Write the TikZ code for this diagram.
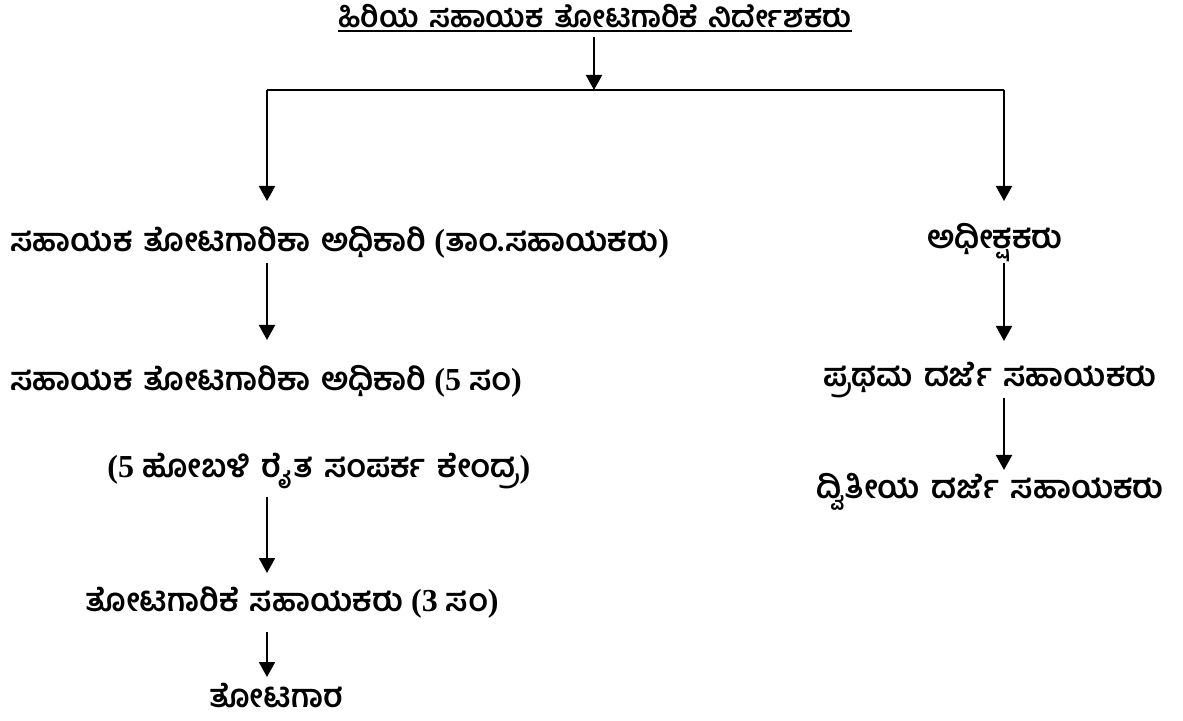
\documentclass[tikz,border=0pt]{standalone}
\usepackage{fontspec}
\setmainfont{Liberation Serif}
\newfontfamily\knfont[Script=Kannada,WordSpace=1.4]{Hind Mysuru}
\newcommand\kan[1]{{\knfont\bfseries #1}}
\usetikzlibrary{arrows.meta}
\begin{document}
\begin{tikzpicture}[x=0.5pt,y=-0.5pt,
  lbl/.style={inner sep=0pt, font=\fontsize{16}{19}\selectfont\bfseries},
  ttl/.style={inner sep=0pt, font=\fontsize{15}{18}\selectfont\bfseries},
  arr/.style={line width=1pt,-{Triangle[length=7.5pt,width=8pt]}},
  ln/.style={line width=1pt}]
\useasboundingbox (0,0) rectangle (1183,721);
% nodes
\node[ttl] (title) at (595,16) {\kan{ಹಿರಿಯ ಸಹಾಯಕ ತೋಟಗಾರಿಕೆ ನಿರ್ದೇಶಕರು}};
\node[lbl,anchor=west] (n1) at (10,242) {\kan{ಸಹಾಯಕ ತೋಟಗಾರಿಕಾ ಅಧಿಕಾರಿ} (\kan{ತಾಂ.ಸಹಾಯಕರು})};
\node[lbl,anchor=west] (n2) at (10,381) {\kan{ಸಹಾಯಕ ತೋಟಗಾರಿಕಾ ಅಧಿಕಾರಿ} (5 \kan{ಸಂ})};
\node[lbl,anchor=west] (n3) at (107,471) {(5 \kan{ಹೋಬಳಿ ರೈತ ಸಂಪರ್ಕ ಕೇಂದ್ರ})};
\node[lbl,anchor=west] (n4) at (85,603) {\kan{ತೋಟಗಾರಿಕೆ ಸಹಾಯಕರು} (3 \kan{ಸಂ})};
\node[lbl] (n5) at (276,696) {\kan{ತೋಟಗಾರ}};
\node[lbl] (r1) at (995,243) {\kan{ಅಧೀಕ್ಷಕರು}};
\node[lbl] (r2) at (990,380) {\kan{ಪ್ರಥಮ ದರ್ಜೆ ಸಹಾಯಕರು}};
\node[lbl] (r3) at (990,492) {\kan{ದ್ವಿತೀಯ ದರ್ಜೆ ಸಹಾಯಕರು}};
% underline
\draw[ln] (title.west |- 0,31) -- (title.east |- 0,31);
% branch
\coordinate (hub) at (594,90);
\coordinate (L) at (267,90);
\coordinate (R) at (1004,90);
\draw[arr] (hub |- 0,37) -- (hub);
\draw[ln] (L) -- (R);
\draw[arr] (L) -- (L |- 0,201);
\draw[arr] (R) -- (R |- 0,201);
% left chain
\draw[arr] (L |- 0,263) -- (L |- 0,340);
\draw[arr] (L |- 0,497) -- (L |- 0,573);
\draw[arr] (L |- 0,632) -- (L |- 0,677);
% right chain
\draw[arr] (R |- 0,263) -- (R |- 0,341);
\draw[arr] (R |- 0,398) -- (R |- 0,470);
\end{tikzpicture}
\end{document}
